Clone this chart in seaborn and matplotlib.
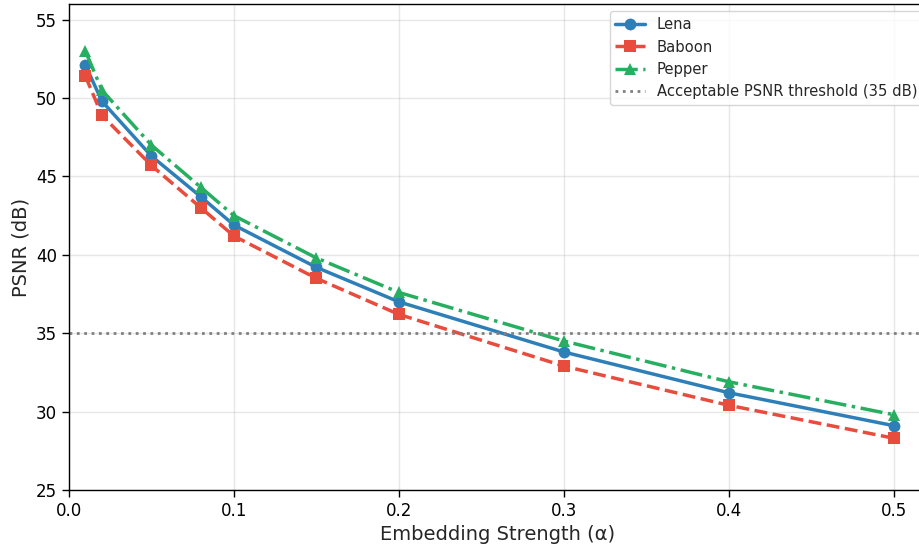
import numpy as np
import pandas as pd
import matplotlib
matplotlib.use("Agg")
import matplotlib.pyplot as plt
import seaborn as sns

# Data
alpha = [0.01, 0.02, 0.05, 0.08, 0.1, 0.15, 0.2, 0.3, 0.4, 0.5]
lena = [52.1, 49.8, 46.3, 43.7, 41.9, 39.2, 37.0, 33.8, 31.2, 29.1]
baboon = [51.4, 48.9, 45.7, 43.0, 41.2, 38.5, 36.2, 32.9, 30.4, 28.3]
pepper = [53.0, 50.5, 47.0, 44.3, 42.5, 39.8, 37.6, 34.5, 31.9, 29.8]
threshold = 35

sns.set_theme(style="ticks")
plt.rcParams['font.family'] = ['DejaVu Sans']

fig = plt.figure(figsize=(9.19, 5.44), dpi=100)
ax = fig.add_axes([0.075, 0.0993, 0.9337, 0.8933])

series = [
    ("Lena", lena, "#2e7fb8", "-", "o"),
    ("Baboon", baboon, "#e74c3c", "--", "s"),
    ("Pepper", pepper, "#27ae60", "-.", "^"),
]
for name, vals, color, ls, mk in series:
    sns.lineplot(x=alpha, y=vals, ax=ax, color=color, linestyle=ls, marker=mk,
                 markersize=8.5, linewidth=2.5, markeredgewidth=0, label=name)

ax.axhline(threshold, color="gray", linestyle=":", linewidth=2,
           label="Acceptable PSNR threshold (35 dB)")

ax.set_xlim(0, 0.52)
ax.set_ylim(25, 56)
ax.set_xticks([0.0, 0.1, 0.2, 0.3, 0.4, 0.5])
ax.set_yticks([25, 30, 35, 40, 45, 50, 55])
ax.grid(True, alpha=0.3, color="#b0b0b0")
ax.set_axisbelow(True)
for sp in ax.spines.values():
    sp.set_color("black")
    sp.set_linewidth(1.0)
ax.tick_params(labelsize=12, colors="black", length=5, width=1)
ax.set_xlabel("Embedding Strength (α)", fontsize=14)
ax.set_ylabel("PSNR (dB)", fontsize=14)
ax.legend(loc="upper right", fontsize=10.6, frameon=True,
          bbox_to_anchor=(1.004, 1.0))

fig.savefig("out.png", dpi=100)
